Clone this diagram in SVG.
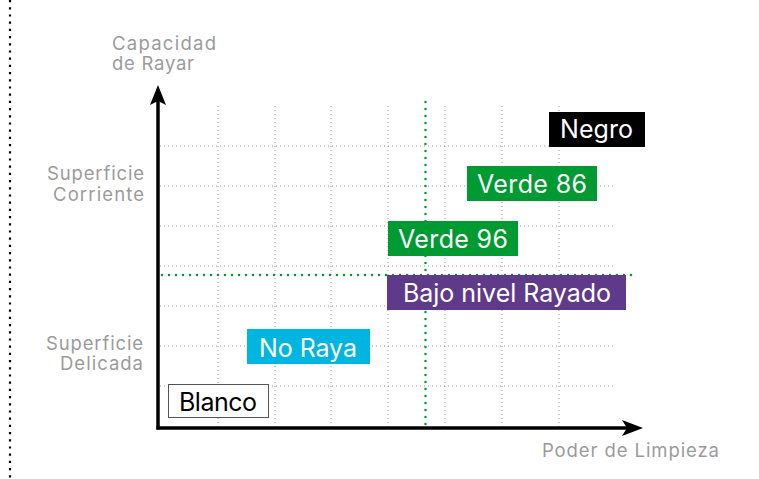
<svg xmlns="http://www.w3.org/2000/svg" width="759" height="479" viewBox="0 0 759 479">
<defs>
<style>
.grid{stroke:#9a9a9a;stroke-width:1;stroke-dasharray:1 3;fill:none}
.gline{stroke:#009a32;stroke-width:2.5;stroke-dasharray:0 7;stroke-linecap:round;fill:none}
.axis{stroke:#000;stroke-width:3.5;fill:none}
.ax{font-family:Inter,"Liberation Sans",sans-serif;font-size:18.5px;fill:#9b9b9b}
.lbl{font-family:Inter,"Liberation Sans",sans-serif;font-size:25px;fill:#fff}
</style>
</defs>
<rect width="759" height="479" fill="#fff"/>
<line x1="10" y1="0" x2="10" y2="479" stroke="#000" stroke-width="2.2" stroke-dasharray="2.2 5"/>
<g id="grid">
<path class="grid" d="M218 106V430M275 106V430M331 106V430M388 106V430M445 106V430M502 106V430M559 106V430"/>
<path class="grid" d="M160 146H616M160 186H616M160 226H616M160 266H616M160 306H616M160 346H616M160 386H616"/>
</g>
<g id="thresholds">
<line class="gline" x1="425.5" y1="102" x2="425.5" y2="426"/>
<line class="gline" x1="162" y1="275" x2="633" y2="275"/>
</g>
<g id="axes">
<line class="axis" x1="158" y1="429.5" x2="158" y2="100"/>
<path d="M158 85 L166 105 L158 101 L150 105 Z" fill="#000"/>
<line class="axis" x1="156.5" y1="428" x2="628" y2="428"/>
<path d="M643 428 L622 420 L627 428 L622 436 Z" fill="#000"/>
<text class="ax" x="112" y="50" textLength="104">Capacidad</text>
<text class="ax" x="112" y="70" textLength="82">de Rayar</text>
<text class="ax" x="47" y="180" textLength="97">Superficie</text>
<text class="ax" x="53" y="201" textLength="91">Corriente</text>
<text class="ax" x="46" y="350" textLength="97">Superficie</text>
<text class="ax" x="60" y="370" textLength="83">Delicada</text>
<text class="ax" x="542" y="457" textLength="177">Poder de Limpieza</text>
</g>
<g id="negro">
<rect x="549" y="112" width="96" height="35" fill="#000"/>
<text class="lbl" x="560" y="138" textLength="73">Negro</text>
</g>
<g id="verde86">
<rect x="467" y="166" width="130" height="35" fill="#009a32"/>
<text class="lbl" x="477" y="193" textLength="110">Verde 86</text>
</g>
<g id="verde96">
<rect x="388" y="221" width="130" height="35" fill="#009a32"/>
<text class="lbl" x="398" y="248" textLength="110">Verde 96</text>
</g>
<g id="bajo">
<rect x="387" y="275" width="239" height="35" fill="#5f3a8b"/>
<text class="lbl" x="403" y="302" textLength="208">Bajo nivel Rayado</text>
</g>
<g id="noraya">
<rect x="247" y="329" width="123" height="35" fill="#00b6e0"/>
<text class="lbl" x="259" y="357" textLength="98">No Raya</text>
</g>
<g id="blanco">
<rect x="168.5" y="384.5" width="100" height="33" fill="#fff" stroke="#555" stroke-width="1"/>
<text class="lbl" x="179" y="411" textLength="78" style="fill:#000">Blanco</text>
</g>
</svg>
